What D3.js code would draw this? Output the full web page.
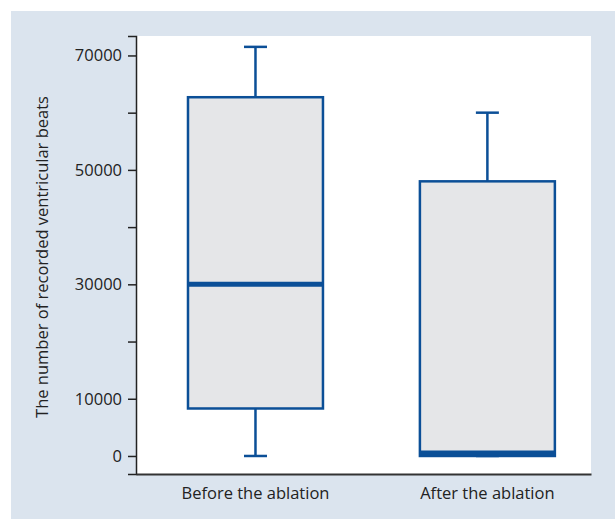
<!DOCTYPE html>
<html>
<head>
<meta charset="utf-8">
<script src="https://cdn.jsdelivr.net/npm/d3@7"></script>
<style>
  body { margin: 0; background: #fff; }
  svg { display: block; font-family: "Open Sans", "Noto Sans", sans-serif; }
</style>
</head>
<body>
<svg id="chart" width="615" height="519"></svg>
<script>
// data
var groups = ["Before the ablation", "After the ablation"];
var whiskerLow = [0, 0];
var q1 = [8300, 0];
var median = [30000, 500];
var q3 = [62700, 48000];
var whiskerHigh = [71500, 60000];
var yTicks = [0, 10000, 20000, 30000, 40000, 50000, 60000, 70000];
var yLabeled = [0, 10000, 30000, 50000, 70000];

var svg = d3.select("#chart");
var margin = { top: 36, right: 24, bottom: 45, left: 136 };
var width = 615 - margin.left - margin.right;
var height = 519 - margin.top - margin.bottom;
var fontSize = 16.5;

// panel background
svg.append("rect")
  .attr("x", 11).attr("y", 11)
  .attr("width", 604).attr("height", 508)
  .attr("fill", "#dbe4ee");

var g = svg.append("g")
  .attr("transform", "translate(" + margin.left + "," + margin.top + ")");

g.append("rect")
  .attr("width", width)
  .attr("height", height)
  .attr("fill", "#fff");

var y = d3.scaleLinear()
  .domain([-3150, 73400])
  .range([height, 0]);

var x = d3.scaleBand()
  .domain(groups)
  .range([0, width])
  .paddingInner(0.418)
  .paddingOuter(0.19)
  .align(0.59);

var boxes = groups.map(function(name, i) {
  return { name: name, lo: whiskerLow[i], q1: q1[i], med: median[i], q3: q3[i], hi: whiskerHigh[i] };
});

var blue = "#0b4f97";
var box = g.selectAll(".box")
  .data(boxes)
  .enter()
  .append("g")
  .attr("class", "box");

function cx(d) { return x(d.name) + x.bandwidth() / 2; }

// whiskers
box.append("line")
  .attr("x1", cx).attr("x2", cx)
  .attr("y1", function(d) { return y(d.hi); })
  .attr("y2", function(d) { return y(d.lo); })
  .attr("stroke", blue).attr("stroke-width", 2.5);

box.append("line")
  .attr("x1", function(d) { return cx(d) - 11.5; })
  .attr("x2", function(d) { return cx(d) + 11.5; })
  .attr("y1", function(d) { return y(d.hi); })
  .attr("y2", function(d) { return y(d.hi); })
  .attr("stroke", blue).attr("stroke-width", 2.5);

box.append("line")
  .attr("x1", function(d) { return cx(d) - 11.5; })
  .attr("x2", function(d) { return cx(d) + 11.5; })
  .attr("y1", function(d) { return y(d.lo); })
  .attr("y2", function(d) { return y(d.lo); })
  .attr("stroke", blue).attr("stroke-width", 2.5);

box.append("rect")
  .attr("x", function(d) { return x(d.name); })
  .attr("width", x.bandwidth())
  .attr("y", function(d) { return y(d.q3); })
  .attr("height", function(d) { return y(d.q1) - y(d.q3); })
  .attr("fill", "#e5e6e8")
  .attr("stroke", blue)
  .attr("stroke-width", 2.5);

box.append("line")
  .attr("x1", function(d) { return x(d.name); })
  .attr("x2", function(d) { return x(d.name) + x.bandwidth(); })
  .attr("y1", function(d) { return y(d.med); })
  .attr("y2", function(d) { return y(d.med); })
  .attr("stroke", blue).attr("stroke-width", 5);

// axes
var yAxis = g.append("g")
  .call(d3.axisLeft(y)
    .tickValues(yTicks)
    .tickSize(8)
    .tickFormat(function(d) { return yLabeled.indexOf(d) >= 0 ? d : ""; }));
yAxis.select(".domain").attr("stroke", "#222").attr("stroke-width", 1.5);
yAxis.selectAll(".tick line").attr("stroke", "#222").attr("stroke-width", 1.5);
yAxis.selectAll(".tick text")
  .attr("x", -14)
  .attr("font-size", fontSize)
  .attr("font-family", "'Open Sans', 'Noto Sans', sans-serif")
  .attr("fill", "#222");

var xAxis = g.append("g")
  .attr("transform", "translate(0," + height + ")")
  .call(d3.axisBottom(x).tickSize(0).tickPadding(13));
xAxis.select(".domain").attr("stroke", "#333").attr("stroke-width", 2);
xAxis.selectAll(".tick text")
  .attr("font-size", fontSize)
  .attr("font-family", "'Open Sans', 'Noto Sans', sans-serif")
  .attr("fill", "#222");

svg.append("text")
  .attr("transform", "translate(48," + (margin.top + height / 2 + 2) + ") rotate(-90)")
  .attr("text-anchor", "middle")
  .attr("font-size", fontSize)
  .attr("fill", "#222")
  .text("The number of recorded ventricular beats");
</script>
</body>
</html>
